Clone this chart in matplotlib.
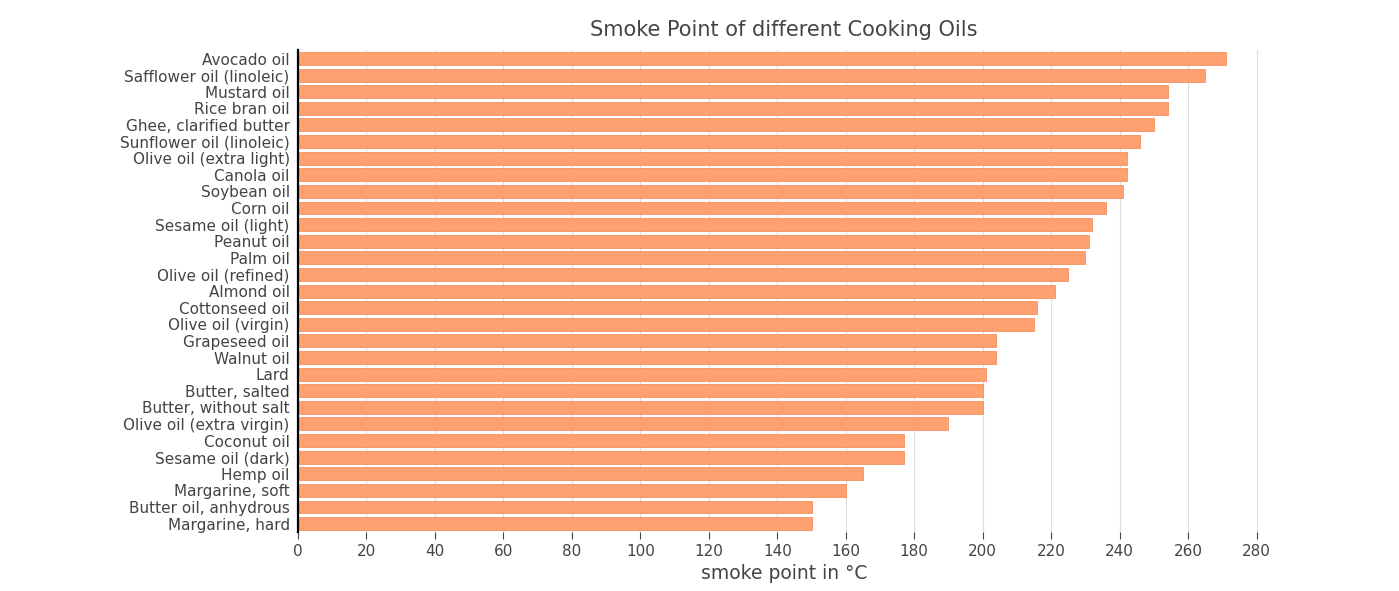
import matplotlib.pyplot as plt

oils = ["Avocado oil", "Safflower oil (linoleic)", "Mustard oil", "Rice bran oil",
        "Ghee, clarified butter", "Sunflower oil (linoleic)", "Olive oil (extra light)",
        "Canola oil", "Soybean oil", "Corn oil", "Sesame oil (light)", "Peanut oil",
        "Palm oil", "Olive oil (refined)", "Almond oil", "Cottonseed oil",
        "Olive oil (virgin)", "Grapeseed oil", "Walnut oil", "Lard", "Butter, salted",
        "Butter, without salt", "Olive oil (extra virgin)", "Coconut oil",
        "Sesame oil (dark)", "Hemp oil", "Margarine, soft", "Butter oil, anhydrous",
        "Margarine, hard"]
smoke = [271, 265, 254, 254, 250, 246, 242, 242, 241, 236, 232, 231, 230, 225, 221,
         216, 215, 204, 204, 201, 200, 200, 190, 177, 177, 165, 160, 150, 150]

txt = "#444444"
fig = plt.figure(figsize=(13.99, 5.91), dpi=100)
ax = fig.add_axes([0.213, 0.1, 0.695, 0.815])

ax.barh(range(len(oils)), smoke, height=0.78, color="#FFA070", edgecolor="#F5905F", linewidth=0.6, zorder=2)
ax.set_yticks(range(len(oils)))
ax.set_yticklabels(oils, fontsize=11, color=txt)
ax.set_ylim(len(oils) - 0.5, -0.5)
ax.set_xlim(0, 284)
ax.set_xticks(range(0, 281, 20))
ax.tick_params(axis="x", labelsize=11, colors=txt, length=5, color="#444444")
ax.tick_params(axis="y", length=0, pad=6)
ax.grid(axis="x", color="#dddddd", linewidth=0.8, zorder=0)
for s in ["top", "right", "bottom"]:
    ax.spines[s].set_visible(False)
ax.spines["left"].set_linewidth(1.6)
ax.set_xlabel("smoke point in °C", fontsize=13.5, color=txt)
ax.set_title("Smoke Point of different Cooking Oils", fontsize=15, color=txt, pad=10)

fig.savefig("out.png", dpi=100)
